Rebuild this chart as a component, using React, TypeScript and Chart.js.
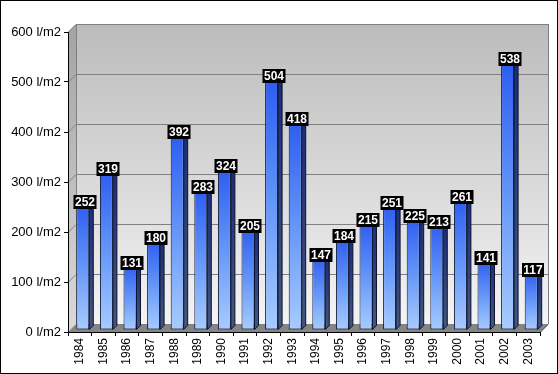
import { useEffect, useRef } from 'react';
import { Chart, registerables } from 'chart.js';

Chart.register(...registerables);

const years = ['1984', '1985', '1986', '1987', '1988', '1989', '1990', '1991', '1992', '1993', '1994', '1995', '1996', '1997', '1998', '1999', '2000', '2001', '2002', '2003'];
const rainfall = [252, 319, 131, 180, 392, 283, 324, 205, 504, 418, 147, 184, 215, 251, 225, 213, 261, 141, 538, 117];
const yMin = 0;
const yMax = 600;
const yStep = 100;
const yUnit = ' l/m2';

const WALL_D = 8;
const SHIFT_X = 3;
const SHIFT_Y = 2;
const BAR_D = 4;
const FONT = '"Liberation Sans", Arial, sans-serif';

const wallsPlugin = {
  id: 'walls3d',
  beforeDraw(chart: any) {
    const { ctx, chartArea } = chart;
    const { left, right, top, bottom } = chartArea;
    const D = WALL_D;
    ctx.save();
    ctx.fillStyle = '#ffffff';
    ctx.fillRect(0, 0, chart.width, chart.height);
    ctx.strokeStyle = '#000000';
    ctx.lineWidth = 1;
    ctx.strokeRect(0.5, 0.5, chart.width - 1, chart.height - 1);

    // back wall
    const g = ctx.createLinearGradient(0, top - D, 0, bottom - D);
    g.addColorStop(0, '#bcbcbc');
    g.addColorStop(1, '#f4f4f4');
    ctx.fillStyle = g;
    ctx.fillRect(left + D, top - D, right - left, bottom - top);

    // side wall
    const gs = ctx.createLinearGradient(0, top, 0, bottom);
    gs.addColorStop(0, '#a4a4a4');
    gs.addColorStop(1, '#dadada');
    ctx.fillStyle = gs;
    ctx.beginPath();
    ctx.moveTo(left, top);
    ctx.lineTo(left + D, top - D);
    ctx.lineTo(left + D, bottom - D);
    ctx.lineTo(left, bottom);
    ctx.closePath();
    ctx.fill();

    // gridlines
    const ys = chart.scales.y;
    ctx.strokeStyle = '#808080';
    ctx.lineWidth = 1;
    ys.ticks.forEach((t: any) => {
      const py = Math.round(ys.getPixelForValue(t.value)) + 0.5;
      ctx.beginPath();
      ctx.moveTo(left, py);
      ctx.lineTo(left + D, py - D);
      ctx.lineTo(right + D, py - D);
      ctx.stroke();
    });
    // wall edges
    ctx.beginPath();
    ctx.moveTo(left + D + 0.5, top - D);
    ctx.lineTo(left + D + 0.5, bottom - D);
    ctx.moveTo(right + D + 0.5, top - D);
    ctx.lineTo(right + D + 0.5, bottom - D);
    ctx.stroke();

    // floor
    ctx.fillStyle = '#858585';
    ctx.strokeStyle = '#404040';
    ctx.beginPath();
    ctx.moveTo(left, bottom + 0.5);
    ctx.lineTo(left + D, bottom - D + 0.5);
    ctx.lineTo(right + D, bottom - D + 0.5);
    ctx.lineTo(right, bottom + 0.5);
    ctx.closePath();
    ctx.fill();
    ctx.beginPath();
    ctx.moveTo(right, bottom + 0.5);
    ctx.lineTo(right + D, bottom - D + 0.5);
    ctx.stroke();
    ctx.restore();
  },
  beforeDatasetsDraw(chart: any) {
    chart.ctx.save();
    chart.ctx.translate(SHIFT_X, -SHIFT_Y);
  },
  afterDatasetsDraw(chart: any) {
    const { ctx } = chart;
    const meta = chart.getDatasetMeta(0);
    const d = BAR_D;
    meta.data.forEach((el: any, i: number) => {
      const { x, y, width, base } = el.getProps(['x', 'y', 'width', 'base'], true);
      const l = x - width / 2;
      const r = x + width / 2;
      // side face
      const gs = ctx.createLinearGradient(0, y, 0, base);
      gs.addColorStop(0, '#1a2c78');
      gs.addColorStop(1, '#44587e');
      ctx.fillStyle = gs;
      ctx.strokeStyle = '#0a1230';
      ctx.lineWidth = 1;
      ctx.beginPath();
      ctx.moveTo(r, y);
      ctx.lineTo(r + d, y - d);
      ctx.lineTo(r + d, base - d);
      ctx.lineTo(r, base);
      ctx.closePath();
      ctx.fill();
      ctx.stroke();
      // top face
      ctx.fillStyle = '#2a4cc8';
      ctx.beginPath();
      ctx.moveTo(l, y);
      ctx.lineTo(l + d, y - d);
      ctx.lineTo(r + d, y - d);
      ctx.lineTo(r, y);
      ctx.closePath();
      ctx.fill();
      ctx.stroke();
    });
    // labels
    ctx.font = 'bold 12px ' + FONT;
    ctx.textAlign = 'center';
    ctx.textBaseline = 'middle';
    meta.data.forEach((el: any, i: number) => {
      const { x, y } = el.getProps(['x', 'y'], true);
      const txt = String(rainfall[i]);
      const tw = ctx.measureText(txt).width;
      const cx = Math.round(x + d / 2);
      const cy = Math.round(y - d / 2);
      const bw = Math.round(tw + 3);
      const bh = 14;
      ctx.fillStyle = '#000000';
      ctx.fillRect(cx - bw / 2, cy - bh / 2, bw, bh);
      ctx.fillStyle = '#ffffff';
      ctx.fillText(txt, cx, cy + 1);
    });
    ctx.restore();
  },
};

export default function App() {
  const ref = useRef<HTMLCanvasElement | null>(null);
  useEffect(() => {
    if (!ref.current) return;
    const chart = new Chart(ref.current, {
      type: 'bar',
      data: {
        labels: years,
        datasets: [
          {
            data: rainfall,
            barPercentage: 0.55,
            categoryPercentage: 1,
            borderWidth: 1,
            borderColor: '#0a1230',
            borderSkipped: false,
            backgroundColor: (c: any) => {
              const ys = c.chart.scales && c.chart.scales.y;
              if (!ys || c.raw == null) return '#4070f0';
              const y0 = ys.getPixelForValue(c.raw);
              const y1 = ys.getPixelForValue(0);
              if (!isFinite(y0) || !isFinite(y1) || y0 === y1) return '#4070f0';
              const g = c.chart.ctx.createLinearGradient(0, y0, 0, y1);
              g.addColorStop(0, '#2c5cf0');
              g.addColorStop(0.5, '#6496f8');
              g.addColorStop(1, '#a8ccff');
              return g;
            },
          },
        ],
      },
      options: {
        responsive: false,
        animation: false,
        layout: { padding: { top: 32, right: 18, left: 0, bottom: 0 } },
        plugins: { legend: { display: false }, tooltip: { enabled: false } },
        scales: {
          x: {
            grid: { display: true, drawOnChartArea: false, tickLength: 4, color: '#000000', offset: true },
            border: { display: true, color: '#000000' },
            ticks: {
              minRotation: 90,
              maxRotation: 90,
              autoSkip: false,
              padding: 2,
              color: '#000000',
              font: { size: 12, family: FONT },
            },
            afterFit: (s: any) => {
              s.height = 42;
            },
          },
          y: {
            min: yMin,
            max: yMax,
            grid: { drawOnChartArea: false, tickLength: 4, color: '#000000' },
            border: { display: true, color: '#000000' },
            ticks: {
              stepSize: yStep,
              padding: 3,
              color: '#000000',
              font: { size: 13, family: FONT },
              callback: (v: any) => v + yUnit,
            },
            afterFit: (s: any) => {
              s.width = 68;
            },
          },
        },
      },
      plugins: [wallsPlugin],
    });
    return () => chart.destroy();
  }, []);
  return (
    <div style={{ position: 'fixed', left: 0, top: 0, width: 558, height: 374 }}>
      <canvas ref={ref} width={558} height={374} style={{ display: 'block' }} />
    </div>
  );
}
